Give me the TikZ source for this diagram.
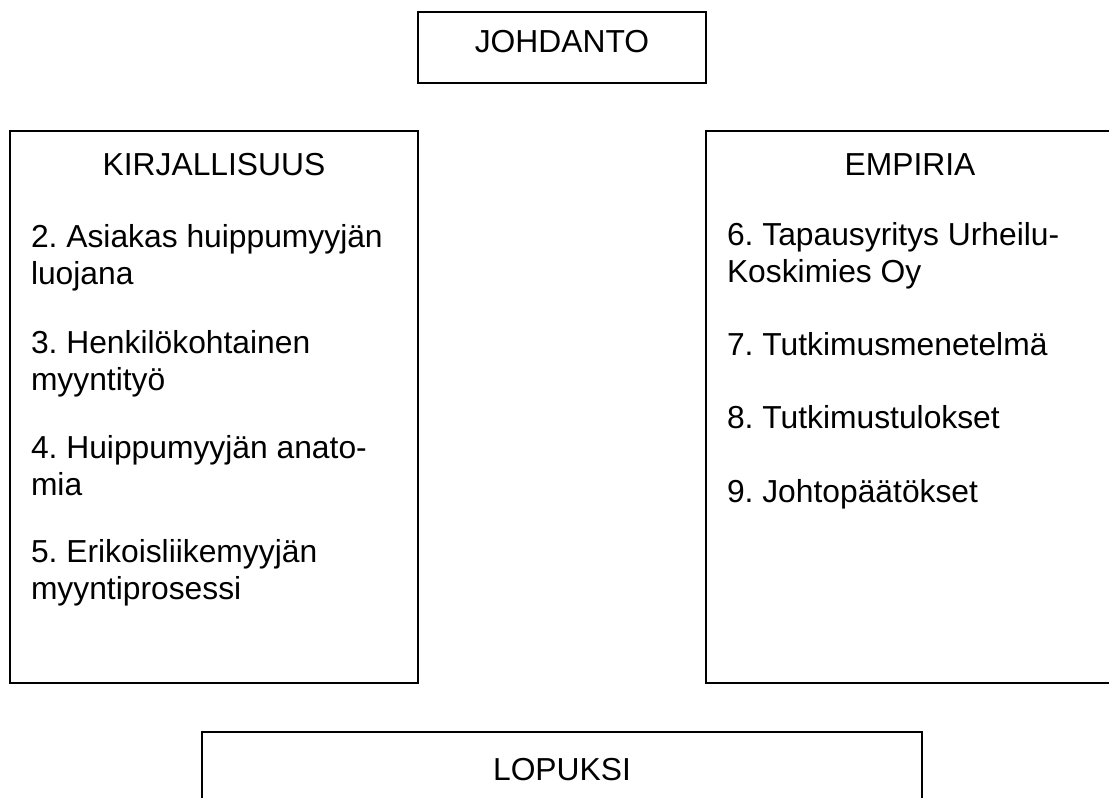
\documentclass[tikz,border=0pt]{standalone}
\usepackage{fontspec}
\setmainfont{Liberation Sans}
\begin{document}
\frenchspacing
\begin{tikzpicture}[x=1pt,y=-1pt,
  frame/.style={draw=black,line width=2pt,inner sep=0pt,outer sep=0pt},
  txt/.style={inner sep=0pt,outer sep=0pt,font=\fontsize{31.8}{37}\selectfont},
  head/.style={txt,anchor=base},
  item/.style={txt,anchor=base west}]
\useasboundingbox (0,0) rectangle (1109,798);
\clip (0,0) rectangle (1109,798);
% frames
\node[frame,minimum width=288pt,minimum height=71pt] (johdantobox) at (562,47.5) {};
\node[frame,minimum width=408pt,minimum height=552pt] (kirjbox) at (214,407) {};
\node[frame,minimum width=408pt,minimum height=552pt] (empbox) at (910,407) {};
\node[frame,minimum width=720pt,minimum height=120pt] (lopbox) at (562,791.7) {};
% headings
\node[head] (johdanto) at (562,52) {JOHDANTO};
\node[head] (kirj) at (214,175) {KIRJALLISUUS};
\node[head] (emp) at (910,175) {EMPIRIA};
\node[head] (lop) at (562,780) {LOPUKSI};
% left items
\node[item] (k2a) at (31,247) {2. Asiakas huippumyyjän};
\node[item] (k2b) at (31,284) {luojana};
\node[item] (k3a) at (31,353) {3. Henkilökohtainen};
\node[item] (k3b) at (31,390) {myyntityö};
\node[item] (k4a) at (31,458) {4. Huippumyyjän anato-};
\node[item] (k4b) at (31,495) {mia};
\node[item] (k5a) at (31,562) {5. Erikoisliikemyyjän};
\node[item] (k5b) at (31,599) {myyntiprosessi};
% right items
\node[item] (e6a) at (727,245) {6. Tapausyritys Urheilu-};
\node[item] (e6b) at (727,282) {Koskimies Oy};
\node[item] (e7) at (727,355) {7. Tutkimusmenetelmä};
\node[item] (e8) at (727,428) {8. Tutkimustulokset};
\node[item] (e9) at (727,502) {9. Johtopäätökset};
\end{tikzpicture}
\end{document}
